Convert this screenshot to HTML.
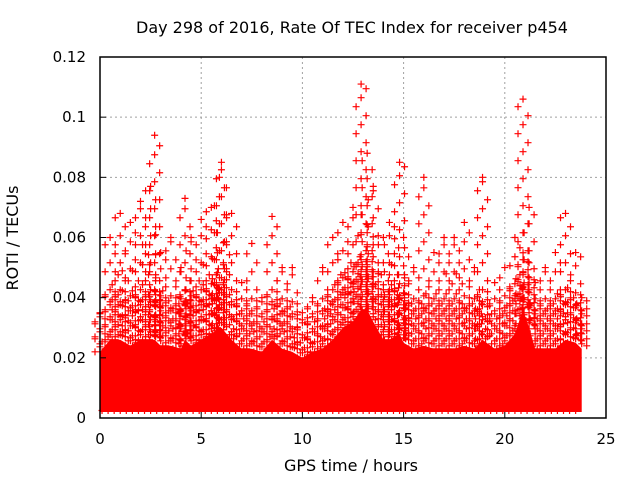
<!DOCTYPE html>
<html><head><meta charset="utf-8"><style>
body{margin:0;background:#fff}
svg text{font-family:"DejaVu Sans",sans-serif;fill:#000}
</style></head><body>
<svg id="chart" width="640" height="480" viewBox="0 0 640 480" xmlns="http://www.w3.org/2000/svg">
<rect width="640" height="480" fill="#fff"/>
<text x="352" y="33" font-size="16" text-anchor="middle">Day 298 of 2016, Rate Of TEC Index for receiver p454</text>
<g id="grid"></g>
<g id="marks"></g>
<g id="axes"></g>
<text x="351" y="471" font-size="16" text-anchor="middle">GPS time / hours</text>
<text transform="translate(18,238) rotate(-90)" font-size="16" text-anchor="middle">ROTI / TECUs</text>
</svg>
<script>
const xTicks=[0,5,10,15,20,25];
const yTicks=[0,0.02,0.04,0.06,0.08,0.1,0.12];
const yTickLabels=["0","0.02","0.04","0.06","0.08","0.1","0.12"];
const times=[0,0.5,1,1.5,2,2.5,2.7,3,3.5,4,4.2,4.5,5,5.5,5.9,6,6.5,7,7.5,8,8.5,9,9.5,10,10.5,11,11.5,12,12.5,12.9,13.2,13.5,14,14.3,14.8,15,15.5,16,16.5,17,17.5,18,18.5,18.9,19.5,20,20.5,20.9,21.2,21.5,22,22.5,23,23.5,23.8];
const maxVals=[0.035,0.06,0.068,0.065,0.072,0.077,0.094,0.055,0.06,0.05,0.073,0.06,0.066,0.07,0.08,0.085,0.068,0.045,0.058,0.04,0.067,0.05,0.05,0.035,0.04,0.05,0.06,0.065,0.07,0.111,0.088,0.077,0.06,0.065,0.085,0.06,0.05,0.08,0.055,0.06,0.06,0.065,0.05,0.08,0.045,0.05,0.06,0.106,0.07,0.045,0.05,0.055,0.068,0.055,0.04];
const coreVals=[0.026,0.03,0.03,0.028,0.03,0.03,0.03,0.028,0.028,0.027,0.03,0.028,0.03,0.032,0.034,0.034,0.03,0.027,0.027,0.026,0.03,0.027,0.026,0.024,0.026,0.027,0.03,0.034,0.036,0.04,0.04,0.036,0.03,0.03,0.032,0.029,0.027,0.028,0.027,0.027,0.027,0.028,0.027,0.03,0.027,0.028,0.032,0.04,0.034,0.027,0.027,0.027,0.03,0.029,0.027];
const floorVal=0.003;
const NS="http://www.w3.org/2000/svg";
const X0=100,X1=606,Y0=418,Y1=57;
const xs=t=>X0+(t/25)*(X1-X0);
const ys=v=>Y0-(v/0.12)*(Y0-Y1);
function mk(tag,attrs,parent){const e=document.createElementNS(NS,tag);for(const k in attrs)e.setAttribute(k,attrs[k]);parent.appendChild(e);return e;}
const grid=document.getElementById('grid'),axes=document.getElementById('axes'),marks=document.getElementById('marks');
xTicks.forEach((t,i)=>{
 if(i>0&&i<xTicks.length-1){const g=mk('line',{x1:xs(t),x2:xs(t),y1:Y1,y2:Y0,stroke:'#a0a0a0','stroke-dasharray':'2,3'},grid);
 
 }
 const tk=mk('line',{x1:xs(t),x2:xs(t),y1:Y0,y2:Y0-6,stroke:'#000'},axes);
 
 
 const tx=mk('text',{x:xs(t),y:Y0+26,'font-size':15,'text-anchor':'middle'},axes);tx.textContent=t;
 
 
});
yTicks.forEach((v,i)=>{
 if(i>0&&i<yTicks.length-1){const g=mk('line',{x1:X0,x2:X1,y1:ys(v),y2:ys(v),stroke:'#a0a0a0','stroke-dasharray':'2,3'},grid);
 
 }
 const tk=mk('line',{x1:X0,x2:X0+6,y1:ys(v),y2:ys(v),stroke:'#000'},axes);
 
 
 const tx=mk('text',{x:X0-14,y:ys(v)+5,'font-size':15,'text-anchor':'end'},axes);tx.textContent=yTickLabels[i];
 
 
});
const frame=mk('rect',{x:X0,y:Y1,width:X1-X0,height:Y0-Y1,fill:'none',stroke:'#000','stroke-width':1.5},axes);


let pts=[];
times.forEach((t,i)=>pts.push(xs(t)+','+ys(coreVals[i]-0.004)));
pts.push(xs(times[times.length-1])+','+ys(floorVal-0.001));pts.push(xs(times[0])+','+ys(floorVal-0.001));
const core=mk('polygon',{points:pts.join(' '),fill:'#ff0000'},marks);


let d='';
const plus=(x,y)=>{d+=`M${x-3.5},${y}h7M${x},${y-3.5}v7`;};
times.forEach((t,i)=>{
 const x=xs(t);
 const top=ys(maxVals[i]),bot=ys(coreVals[i]-0.004);
 const dense=ys(coreVals[i]+0.012);
 let k=0;
 for(let y=bot;y>=top+4;k++){
  plus(x+((k%3)-1)*5,y);
  if(y>dense) plus(x+((k%3)-1)*-5,y-3);
  y-= (y>dense)?5:9;
 }
 plus(x,top);
});
times.forEach((t,i)=>{
 if(i===0)return;
 const x=(xs(t)+xs(times[i-1]))/2;
 const cmin=Math.min(coreVals[i],coreVals[i-1]);
 const top=ys(Math.min(maxVals[i],maxVals[i-1])*0.8),bot=ys(cmin-0.004);
 const dense=ys(cmin+0.01);
 for(let y=bot,k=0;y>=top;k++){
  plus(x+((k%2)?3:-3),y);
  y-=(y>dense)?5:10;
 }
});
for(let t=0.1;t<=23.8;t+=0.3){plus(xs(t),ys(floorVal-0.0005));}
const mp=mk('path',{d:d,stroke:'#ff0000','stroke-width':1.2,fill:'none'},marks);


</script>
</body></html>
